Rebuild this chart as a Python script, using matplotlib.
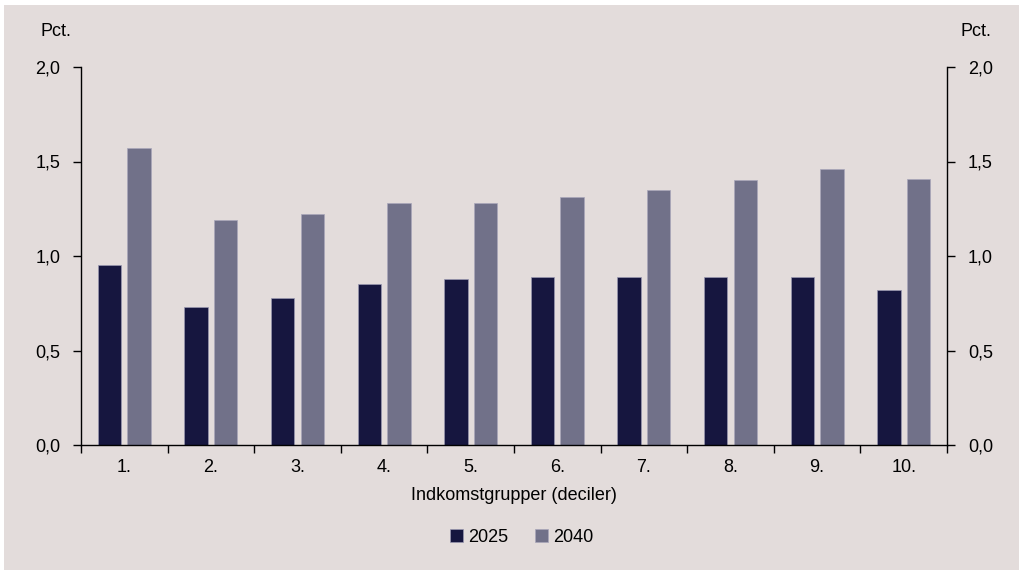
import matplotlib
matplotlib.use("Agg")
import matplotlib.pyplot as plt
import numpy as np
from matplotlib.patches import Rectangle

plt.rcParams['font.family'] = ['Liberation Sans', 'DejaVu Sans']
plt.rcParams['font.size'] = 13

categories = ["1.", "2.", "3.", "4.", "5.", "6.", "7.", "8.", "9.", "10."]
values_2025 = [0.95, 0.73, 0.78, 0.85, 0.88, 0.89, 0.89, 0.89, 0.89, 0.82]
values_2040 = [1.57, 1.19, 1.22, 1.28, 1.28, 1.31, 1.35, 1.40, 1.46, 1.41]
series_labels = ["2025", "2040"]
yticks = [0.0, 0.5, 1.0, 1.5, 2.0]

bg = "#e3dcdb"
c_dark = "#16163f"
c_light = "#717189"

fig = plt.figure(figsize=(10.19, 5.70), dpi=100, facecolor="white")
fig.patches.append(Rectangle((4 / 1019, -0.01), 1.0, 1.01 - 5 / 570,
                             transform=fig.transFigure, facecolor=bg,
                             edgecolor="none", zorder=-10))

ax = fig.add_axes([81 / 1019, 1 - 445 / 570, (947 - 81) / 1019, (445 - 67) / 570])
ax.set_facecolor("none")

x = np.arange(len(categories))
w = 0.27
ax.bar(x - 0.17, values_2025, width=w, color=c_dark, edgecolor="#9a98b0",
       linewidth=0.5, label=series_labels[0])
ax.bar(x + 0.17, values_2040, width=w, color=c_light, edgecolor="#a9a7bb",
       linewidth=0.5, label=series_labels[1])

ax.set_xlim(-0.5, len(categories) - 0.5)
ax.set_ylim(0, 2.0)
ax.set_yticks(yticks)
fmt = [f"{v:.1f}".replace(".", ",") for v in yticks]
ax.set_yticklabels(fmt)

ax.set_xticks(np.arange(-0.5, len(categories), 1.0))
ax.set_xticklabels([])
ax.set_xticks(x, minor=True)
ax.set_xticklabels(categories, minor=True)
ax.tick_params(axis="x", which="major", direction="out", length=6, width=1, color="black")
ax.tick_params(axis="x", which="minor", length=0, pad=10, labelsize=13)
ax.tick_params(axis="y", direction="out", length=6, width=1, pad=9,
               left=True, right=True, labelleft=True, labelright=True)

ax.spines["top"].set_visible(False)
for s in ["left", "right", "bottom"]:
    ax.spines[s].set_linewidth(1)
    ax.spines[s].set_color("black")

ax.set_xlabel("Indkomstgrupper (deciler)", labelpad=8)

fig.text(40 / 1019, 1 - 31 / 570, "Pct.", ha="left", va="center", fontsize=13)
fig.text(991 / 1019, 1 - 31 / 570, "Pct.", ha="right", va="center", fontsize=13)

handles, labels = ax.get_legend_handles_labels()
fig.legend(handles, labels, loc="center", bbox_to_anchor=(522 / 1019, 1 - 537 / 570),
           ncol=2, frameon=False, handlelength=0.7, handleheight=0.7,
           handletextpad=0.3, columnspacing=1.5, fontsize=13)

fig.savefig("out.png", dpi=100, facecolor=fig.get_facecolor())
